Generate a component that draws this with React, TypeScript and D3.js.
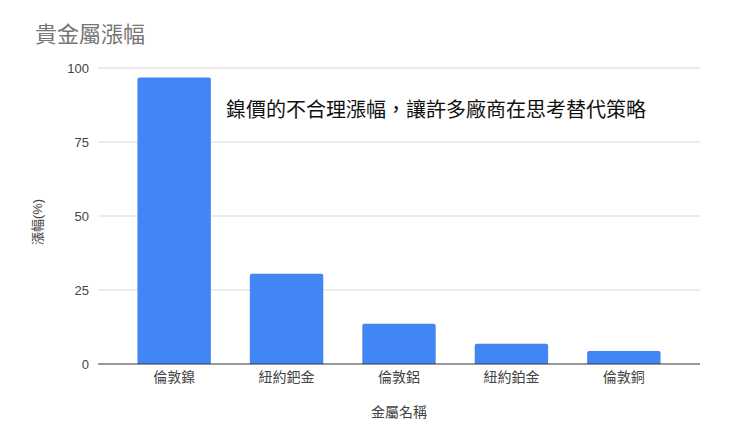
import { useEffect, useRef } from 'react';
import * as d3 from 'd3';

const metals = ['倫敦鎳', '紐約鈀金', '倫敦鋁', '紐約鉑金', '倫敦銅'];
const rises = [96.8, 30.5, 13.6, 6.8, 4.4];
const yTicks = [0, 25, 50, 75, 100];

const chartTitle = '貴金屬漲幅';
const note = '鎳價的不合理漲幅，讓許多廠商在思考替代策略';
const xTitle = '金屬名稱';
const yTitle = '漲幅(%)';

const FONT = '"Liberation Sans", "Noto Sans CJK TC", sans-serif';

export default function App() {
  const svgRef = useRef<SVGSVGElement>(null);

  useEffect(() => {
    const svg = d3.select(svgRef.current);
    if (!svg.node()) return;
    svg.selectAll('*').remove();

    const width = 740;
    const height = 442;
    const plot = { left: 98, right: 700, top: 68, bottom: 364 };

    const x = d3.scaleBand<string>()
      .domain(metals)
      .range([118, 680])
      .paddingInner(0.347)
      .paddingOuter(0.173);
    const y = d3.scaleLinear().domain([0, 100]).range([plot.bottom, plot.top]);

    svg.append('rect').attr('width', width).attr('height', height).attr('fill', '#fff');

    // gridlines
    svg.append('g')
      .selectAll('line')
      .data(yTicks.filter((t) => t !== 0))
      .join('line')
      .attr('x1', plot.left)
      .attr('x2', plot.right)
      .attr('y1', (d) => y(d))
      .attr('y2', (d) => y(d))
      .attr('stroke', '#d9d9d9')
      .attr('stroke-width', 1);

    // tick labels
    svg.append('g')
      .selectAll('text')
      .data(yTicks)
      .join('text')
      .attr('x', 89)
      .attr('y', (d) => y(d))
      .attr('dy', '0.35em')
      .attr('text-anchor', 'end')
      .attr('font-family', FONT)
      .attr('font-size', 13)
      .attr('fill', '#444')
      .text((d) => d);

    // bars
    const bw = x.bandwidth();
    svg.append('g')
      .selectAll('path')
      .data(rises)
      .join('path')
      .attr('d', (d, i) => {
        const x0 = x(metals[i])!;
        const top = y(d);
        const r = 2;
        const p = d3.path();
        p.moveTo(x0, y(0));
        p.lineTo(x0, top + r);
        p.quadraticCurveTo(x0, top, x0 + r, top);
        p.lineTo(x0 + bw - r, top);
        p.quadraticCurveTo(x0 + bw, top, x0 + bw, top + r);
        p.lineTo(x0 + bw, y(0));
        p.closePath();
        return p.toString();
      })
      .attr('fill', '#4285f4');

    // baseline
    svg.append('line')
      .attr('x1', plot.left)
      .attr('x2', plot.right)
      .attr('y1', y(0))
      .attr('y2', y(0))
      .attr('stroke', '#333')
      .attr('stroke-width', 1.2);

    // category labels
    svg.append('g')
      .selectAll('text')
      .data(metals)
      .join('text')
      .attr('x', (d) => x(d)! + bw / 2)
      .attr('y', 382)
      .attr('text-anchor', 'middle')
      .attr('font-family', FONT)
      .attr('font-size', 14)
      .attr('fill', '#444')
      .text((d) => d);

    svg.append('text')
      .attr('x', 399)
      .attr('y', 417)
      .attr('text-anchor', 'middle')
      .attr('font-family', FONT)
      .attr('font-size', 14)
      .attr('fill', '#444')
      .text(xTitle);

    svg.append('text')
      .attr('transform', 'translate(42,222) rotate(-90)')
      .attr('text-anchor', 'middle')
      .attr('font-family', FONT)
      .attr('font-size', 13)
      .attr('fill', '#444')
      .text(yTitle);

    svg.append('text')
      .attr('x', 35)
      .attr('y', 42)
      .attr('font-family', FONT)
      .attr('font-size', 22)
      .attr('fill', '#757575')
      .text(chartTitle);

    svg.append('text')
      .attr('x', 226)
      .attr('y', 117)
      .attr('font-family', FONT)
      .attr('font-size', 20)
      .attr('fill', '#111')
      .text(note);
  }, []);

  return (
    <div style={{ position: 'absolute', left: 0, top: 0 }}>
      <svg ref={svgRef} width={740} height={442} style={{ display: 'block' }} />
    </div>
  );
}
